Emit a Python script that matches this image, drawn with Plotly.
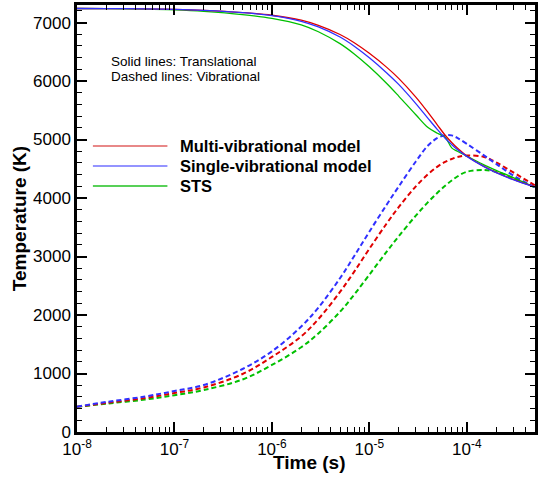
import plotly.graph_objects as go

# ---- data ----
time_s = [1e-8, 2e-8, 5e-8, 1e-7, 2e-7, 5e-7, 1e-6, 2e-6, 3e-6, 5e-6, 7e-6,
          1e-5, 1.5e-5, 2e-5, 3e-5, 4e-5, 5e-5, 6e-5, 7e-5, 8e-5, 1e-4,
          1.5e-4, 2e-4, 3e-4, 5e-4]

# Translational temperatures (solid), K
tt_multi = [7240, 7238, 7235, 7226, 7209, 7171, 7125, 7040, 6951, 6795, 6655,
            6474, 6238, 6046, 5726, 5464, 5247, 5074, 4950, 4854, 4720,
            4541, 4438, 4319, 4190]
tt_single = [7240, 7238, 7235, 7226, 7209, 7171, 7117, 7022, 6925, 6752, 6595,
             6397, 6143, 5943, 5615, 5362, 5170, 5023, 4915, 4828, 4712,
             4536, 4433, 4313, 4185]
tt_sts = [7240, 7238, 7231, 7217, 7192, 7137, 7072, 6961, 6843, 6639, 6463,
          6243, 5962, 5743, 5423, 5204, 5107, 5040, 4857, 4799, 4717,
          4568, 4474, 4349, 4182]

# Vibrational temperatures (dashed), K
tv_multi = [433, 496, 581, 667, 761, 992, 1283, 1635, 1931, 2394, 2742,
            3132, 3561, 3843, 4199, 4407, 4537, 4618, 4667, 4702, 4726,
            4703, 4609, 4438, 4216]
tv_single = [433, 513, 607, 701, 804, 1077, 1379, 1803, 2128, 2629, 3008,
             3424, 3882, 4195, 4625, 4897, 5027, 5073, 5071, 5028, 4926,
             4729, 4584, 4387, 4182]
tv_sts = [430, 485, 555, 628, 718, 898, 1146, 1449, 1685, 2056, 2350,
          2689, 3079, 3344, 3699, 3929, 4091, 4211, 4300, 4368, 4448,
          4478, 4447, 4344, 4182]

names = ["Multi-vibrational model", "Single-vibrational model", "STS"]
colors = ["#e00000", "#3030ff", "#00c000"]
legend_colors = ["#e06060", "#7070ff", "#20c020"]

x_major = [1e-8, 1e-7, 1e-6, 1e-5, 1e-4]
x_labels = ["10<sup>-8</sup>", "10<sup>-7</sup>", "10<sup>-6</sup>",
            "10<sup>-5</sup>", "10<sup>-4</sup>"]
y_major = [0, 1000, 2000, 3000, 4000, 5000, 6000, 7000]

FONT = "Liberation Sans, Arial, Helvetica, sans-serif"

fig = go.Figure()
for tv, c in zip([tv_sts, tv_multi, tv_single], [colors[2], colors[0], colors[1]]):
    fig.add_trace(go.Scatter(x=time_s, y=tv, mode="lines", showlegend=False,
                             line=dict(color=c, width=2, dash="5px,3px", shape="spline", smoothing=1.0)))
for tt, c in zip([tt_sts, tt_multi, tt_single], [colors[2], colors[0], colors[1]]):
    fig.add_trace(go.Scatter(x=time_s, y=tt, mode="lines", showlegend=False,
                             line=dict(color=c, width=1.3, shape="spline", smoothing=1.0)))

minor_x = [m * 10.0 ** e for e in range(-8, -3) for m in range(2, 10)]
minor_x = [v for v in minor_x if v <= 5e-4]
minor_y = [v for v in range(0, 7400, 200) if v % 1000 != 0]

axis_common = dict(showline=True, linecolor="black", linewidth=2.5, mirror="ticks",
                   ticks="inside", ticklen=10, tickwidth=1.5, tickcolor="black",
                   showgrid=False, zeroline=False,
                   tickfont=dict(family=FONT, size=17, color="black"))

fig.update_xaxes(type="log", range=[-8, -3.3], tickvals=x_major, ticktext=x_labels,
                 minor=dict(tickvals=minor_x, ticks="inside", ticklen=5, tickwidth=1.2, tickcolor="black"),
                 **axis_common)
fig.update_yaxes(range=[0, 7300], tickvals=y_major,
                 minor=dict(tickvals=minor_y, ticks="inside", ticklen=5, tickwidth=1.2, tickcolor="black"),
                 title=dict(text="<b>Temperature (K)</b>", font=dict(family=FONT, size=19, color="black"), standoff=2),
                 **axis_common)

H_PLOT = 432 - 5
W_PLOT = 538 - 77

# x-axis title
fig.add_annotation(xref="paper", yref="paper", x=(311 - 77) / W_PLOT, y=(432 - 462) / H_PLOT,
                   xanchor="center", yanchor="middle", showarrow=False,
                   text="<b>Time (s)</b>", font=dict(family=FONT, size=19, color="black"))

# legend drawn as line samples + labels
leg_y = [146, 166, 186]
for name, lc, py in zip(names, legend_colors, leg_y):
    yp = (432 - py) / H_PLOT
    fig.add_shape(type="line", xref="paper", yref="paper",
                  x0=(93 - 77) / W_PLOT, x1=(168 - 77) / W_PLOT, y0=yp, y1=yp,
                  line=dict(color=lc, width=1.5))
    fig.add_annotation(xref="paper", yref="paper", x=(179 - 77) / W_PLOT, y=yp,
                       xanchor="left", yanchor="middle", showarrow=False,
                       text="<b>" + name + "</b>", font=dict(family=FONT, size=16.5, color="black"))

fig.add_annotation(xref="paper", yref="paper", x=(109 - 77) / W_PLOT, y=(432 - 61.5) / H_PLOT,
                   xanchor="left", yanchor="middle", showarrow=False, height=13,
                   text="Solid lines: Translational", font=dict(family=FONT, size=13.5, color="black"))
fig.add_annotation(xref="paper", yref="paper", x=(109 - 77) / W_PLOT, y=(432 - 76.5) / H_PLOT,
                   xanchor="left", yanchor="middle", showarrow=False, height=13,
                   text="Dashed lines: Vibrational", font=dict(family=FONT, size=13.5, color="black"))

fig.update_layout(width=538, height=480, margin=dict(l=77, r=0, t=5, b=48),
                  plot_bgcolor="white", paper_bgcolor="white",
                  font=dict(family=FONT, color="black"))

fig.write_html("out.html")
